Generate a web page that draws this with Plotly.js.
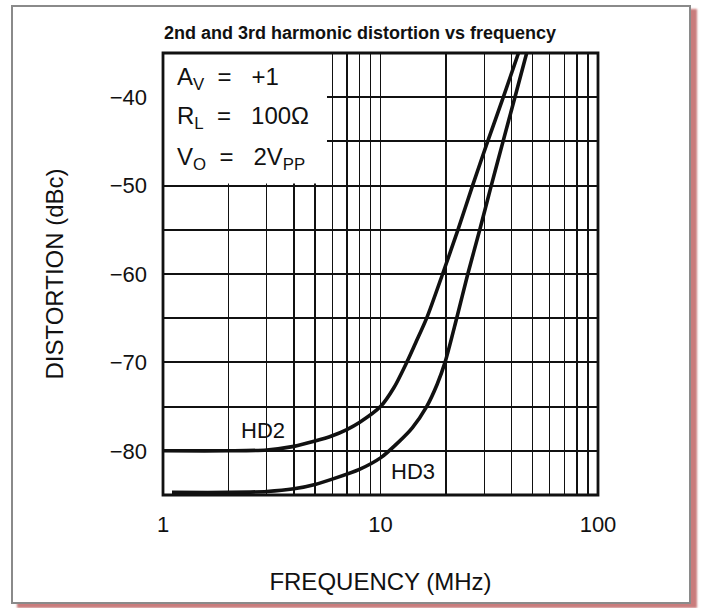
<!DOCTYPE html>
<html>
<head>
<meta charset="utf-8">
<script src="https://cdn.plot.ly/plotly-3.0.1.min.js"></script>
<style>
  html, body { margin: 0; padding: 0; background: #ffffff; }
  #chart { position: absolute; left: 0; top: 0; width: 702px; height: 608px; }
  #frame { position: absolute; left: 11px; top: 5px; width: 676px; height: 595px;
           border: 2px solid #8a8a8a; box-shadow: 6px 4px 2px #c97c7c; pointer-events: none; }
</style>
</head>
<body>
<div id="chart"></div>
<div id="frame"></div>
<script>
// ---- data ----
const hd2Freq = [1, 2, 3, 4, 5, 6, 7, 8, 10, 11.5, 13.2, 14.5, 16.3, 19.3, 22.7, 26.5, 31.1, 36.7, 43.1];
const hd2Dist = [-80, -80, -79.9, -79.5, -78.9, -78.3, -77.6, -76.8, -75, -72.9, -70, -67.8, -65, -60, -55, -50, -45, -40, -35];

const hd3Freq = [1.1, 2, 3, 4, 5, 6, 8, 10, 12, 14, 16.3, 18.2, 19.8, 22.4, 25.2, 28.6, 32.3, 36.6, 41.5, 47];
const hd3Dist = [-84.7, -84.7, -84.6, -84.3, -83.8, -83.2, -82.1, -80.8, -79.1, -77.4, -75, -72.5, -70, -65, -60, -55, -50, -45, -40, -35];

const xTickVals = [1, 10, 100];
const xTickText = ['1', '10', '100'];
const xMinorVals = [2,3,4,5,6,7,8,9,20,30,40,50,60,70,80,90];
const yTickVals = [-80, -70, -60, -50, -40];
const yTickText = ['\u221280', '\u221270', '\u221260', '\u221250', '\u221240'];
const yMinorVals = [-85, -75, -65, -55, -45, -35];

const seriesLabels = ['HD2', 'HD3'];
const labelPos = [{f: 2.88, d: -77.7}, {f: 14.1, d: -82.3}];

const conditions = [
  'A<sub>V</sub>\u00a0\u00a0=\u00a0\u00a0\u00a0+1',
  'R<sub>L</sub>\u00a0\u00a0=\u00a0\u00a0\u00a0100\u03a9',
  'V<sub>O</sub>\u00a0\u00a0=\u00a0\u00a0\u00a02V<sub>PP</sub>'
];
const conditionRows = [-37.85, -42.3, -46.9];

const titleText = '2nd and 3rd harmonic distortion vs frequency';
const xTitle = 'FREQUENCY (MHz)';
const yTitle = 'DISTORTION (dBc)';

// ---- chart ----
const ink = '#111111';
const lineStyle = {color: ink, width: 3.6, shape: 'spline', smoothing: 0.8};
const traces = [
  {x: hd2Freq, y: hd2Dist, mode: 'lines', line: lineStyle, name: seriesLabels[0], hoverinfo: 'skip'},
  {x: hd3Freq, y: hd3Dist, mode: 'lines', line: lineStyle, name: seriesLabels[1], hoverinfo: 'skip'}
];

const fam = '"Liberation Sans", Arial, sans-serif';
const tickFont = {family: fam, size: 22, color: ink};
const condFont = {family: fam, size: 24, color: ink};
const titleFont = {family: fam, size: 24, color: ink};

const annotations = [];
annotations.push({x: -0.002, y: 1 + (53 - 33) / 442, xref: 'paper', yref: 'paper',
  text: '<b>' + titleText + '</b>', showarrow: false, xanchor: 'left', yanchor: 'middle',
  font: {family: fam, size: 18, color: ink}});
seriesLabels.forEach((s, i) => {
  annotations.push({x: Math.log10(labelPos[i].f), y: labelPos[i].d, xref: 'x', yref: 'y',
    text: s, showarrow: false, xanchor: 'center', yanchor: 'middle', font: tickFont});
});
conditions.forEach((c, i) => {
  annotations.push({x: 0.027, y: conditionRows[i], xref: 'paper', yref: 'y',
    text: c, showarrow: false, xanchor: 'left', yanchor: 'middle', font: condFont});
});

const layout = {
  width: 702, height: 608,
  margin: {l: 163, r: 104, t: 53, b: 113},
  paper_bgcolor: 'rgba(0,0,0,0)',
  plot_bgcolor: '#ffffff',
  showlegend: false,
  xaxis: {
    type: 'log', range: [0, 2],
    tickmode: 'array', tickvals: xTickVals, ticktext: xTickText,
    showgrid: true, gridcolor: ink, gridwidth: 1.5,
    minor: {tickmode: 'array', tickvals: xMinorVals, showgrid: true, gridcolor: ink, gridwidth: 1.4, ticks: ''},
    ticks: '', ticklabelstandoff: 14,
    tickfont: tickFont, zeroline: false, showline: false,
    title: {text: xTitle, font: titleFont, standoff: 37}
  },
  yaxis: {
    range: [-85, -35],
    tickmode: 'array', tickvals: yTickVals, ticktext: yTickText,
    showgrid: true, gridcolor: ink, gridwidth: 2,
    minor: {tickmode: 'array', tickvals: yMinorVals, showgrid: true, gridcolor: ink, gridwidth: 2, ticks: ''},
    ticks: '', ticklabelstandoff: 15,
    tickfont: tickFont, zeroline: false, showline: false,
    title: {text: yTitle, font: titleFont, standoff: 39}
  },
  shapes: [
    {type: 'rect', xref: 'paper', yref: 'y', x0: 0, x1: 0.377, y0: -49.75, y1: -35,
     fillcolor: '#ffffff', line: {width: 0}, layer: 'above'},
    {type: 'rect', xref: 'paper', yref: 'paper', x0: 0, x1: 1, y0: 0, y1: 1,
     fillcolor: 'rgba(0,0,0,0)', line: {color: ink, width: 2.8}, layer: 'above'}
  ],
  annotations: annotations
};

Plotly.newPlot('chart', traces, layout, {displayModeBar: false, staticPlot: true});
</script>
</body>
</html>
